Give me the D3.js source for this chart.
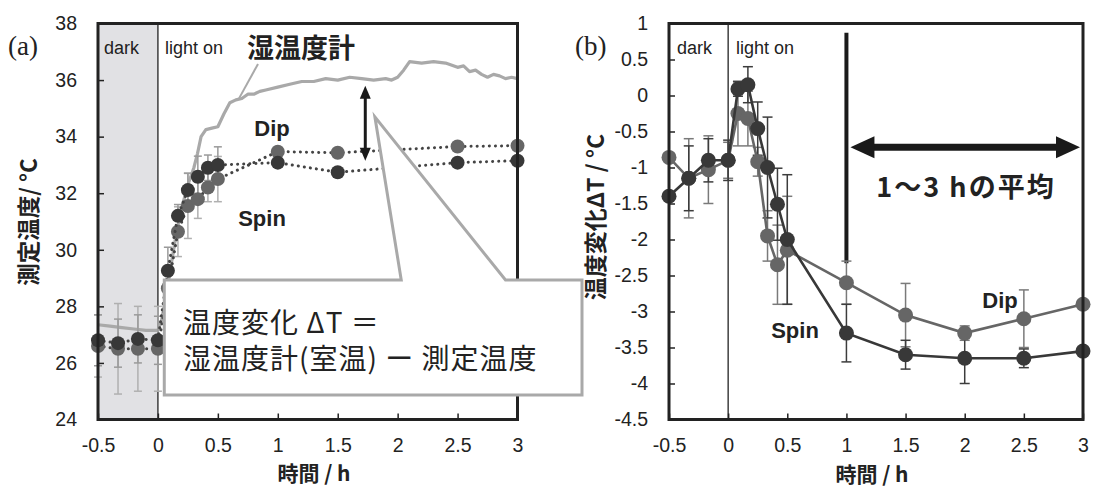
<!DOCTYPE html>
<html>
<head>
<meta charset="utf-8">
<script src="https://cdn.jsdelivr.net/npm/d3@7"></script>
<style>
body { margin: 0; background: #fff; }
svg { display: block; }
text { font-family: "Liberation Sans", Arial, sans-serif; fill: #222; }
.jp { font-family: "Noto Sans CJK JP", "Noto Sans", sans-serif; }
</style>
</head>
<body>
<div id="chart"></div>
<script>
// ---- panel (a): measured temperature ----
var timesA = [-0.5, -0.333, -0.167, 0, 0.083, 0.167, 0.25, 0.333, 0.417, 0.5, 1, 1.5, 2.5, 3];
var dipTemp = [26.6, 26.5, 26.5, 26.5, 28.64, 30.64, 31.55, 31.79, 32.2, 32.5, 33.47, 33.43, 33.65, 33.68];
var dipTempErr = [1.1, 1.6, 1.5, 1.5, 0.8, 0.88, 1.15, 0.68, 0.5, 0.8, 0.1, 0.1, 0.1, 0.1];
var spinTemp = [26.8, 26.7, 26.85, 26.8, 29.26, 31.2, 32.11, 32.58, 32.9, 33.0, 33.08, 32.74, 33.08, 33.15];
var spinTempErr = [0.9, 0.85, 0.85, 0.85, 0.83, 0.4, 0.6, 0.73, 0.45, 0.64, 0.1, 0.1, 0.1, 0.1];

// hygrometer (room temperature) trace
var hygroT = [-0.5, -0.4, -0.3, -0.2, -0.1, 0, 0.03, 0.06, 0.1, 0.15, 0.2, 0.25, 0.3, 0.33, 0.36, 0.4, 0.45, 0.5,
  0.55, 0.6, 0.65, 0.7, 0.75, 0.8, 0.85, 0.9, 1.0, 1.1, 1.2, 1.3, 1.4, 1.5, 1.6, 1.7, 1.8, 1.9, 1.95, 2.0, 2.05,
  2.1, 2.2, 2.3, 2.4, 2.5, 2.55, 2.6, 2.65, 2.7, 2.75, 2.8, 2.85, 2.9, 2.95, 3.0];
var hygroV = [27.35, 27.3, 27.25, 27.2, 27.15, 27.15, 27.5, 28.2, 29.2, 30.5, 31.5, 32.3, 32.9, 33.4, 34.0, 34.25, 34.3, 34.35,
  34.8, 35.2, 35.3, 35.35, 35.5, 35.5, 35.6, 35.65, 35.75, 35.85, 35.95, 35.95, 36.05, 36.0, 36.1, 36.05, 36.0, 36.05, 36.0, 36.1, 36.35,
  36.65, 36.6, 36.65, 36.6, 36.45, 36.5, 36.3, 36.35, 36.2, 36.1, 36.2, 36.15, 36.05, 36.1, 36.05];

// ---- panel (b): temperature change ----
var timesB = [-0.5, -0.333, -0.167, 0, 0.083, 0.167, 0.25, 0.333, 0.417, 0.5, 1, 1.5, 2, 2.5, 3];
var spinDT = [-1.4, -1.15, -0.9, -0.9, 0.09, 0.15, -0.46, -1.0, -1.51, -2.0, -3.3, -3.6, -3.65, -3.65, -3.55];
var spinDTErr = [0.05, 0.45, 0.3, 0.28, 0.1, 0.25, 0.37, 0.7, 0.5, 0.9, 0.4, 0.2, 0.35, 0.13, 0.05];
var dipDT = [-0.86, -1.15, -1.03, -0.9, -0.25, -0.32, -0.92, -1.95, -2.35, -2.15, -2.6, -3.05, -3.3, -3.1, -2.9];
var dipDTErr = [0.05, 0.55, 0.47, 0.25, 0.45, 0.38, 0.2, 0.35, 0.55, 0.75, 0.3, 0.44, 0.1, 0.4, 0.05];

var xTicks = [-0.5, 0, 0.5, 1, 1.5, 2, 2.5, 3];
var yTicksA = [24, 26, 28, 30, 32, 34, 36, 38];
var yTicksB = [1, 0.5, 0, -0.5, -1, -1.5, -2, -2.5, -3, -3.5, -4, -4.5];

var W = 1093, H = 488;
var svg = d3.select('#chart').append('svg').attr('width', W).attr('height', H);

var dipColor = '#666', spinColor = '#383838';
var plain = function(d) { return String(d); };   // keep hyphen-minus like the original

function frameAxes(g, x, y, yTicks) {
  var x0 = x.range()[0], x1 = x.range()[1], y0 = y.range()[1], y1 = y.range()[0];
  var xa = g.append('g').attr('transform', 'translate(0,' + y1 + ')')
    .call(d3.axisBottom(x).tickValues(xTicks).tickSize(-6).tickPadding(19).tickFormat(plain));
  var ya = g.append('g').attr('transform', 'translate(' + x0 + ',0)')
    .call(d3.axisLeft(y).tickValues(yTicks).tickSize(-6).tickPadding(21).tickFormat(plain));
  [xa, ya].forEach(function(a) {
    a.select('.domain').remove();
    a.selectAll('line').attr('stroke', '#222').attr('stroke-width', 1.5);
    a.selectAll('text').style('font-size', '19.5px').attr('fill', '#222')
      .style('font-family', '"Liberation Sans", Arial, sans-serif');
  });
  g.append('rect').attr('x', x0).attr('y', y0).attr('width', x1 - x0).attr('height', y1 - y0)
    .attr('fill', 'none').attr('stroke', '#222').attr('stroke-width', 3);
}

function arrowHead(g, px, py, dir, len, wid) {
  var pts;
  if (dir === 'up') pts = [[px, py], [px - wid / 2, py + len], [px + wid / 2, py + len]];
  if (dir === 'down') pts = [[px, py], [px - wid / 2, py - len], [px + wid / 2, py - len]];
  if (dir === 'left') pts = [[px, py], [px + len, py - wid / 2], [px + len, py + wid / 2]];
  if (dir === 'right') pts = [[px, py], [px - len, py - wid / 2], [px - len, py + wid / 2]];
  g.append('path').attr('d', 'M' + pts.join('L') + 'Z').attr('fill', '#1a1a1a');
}

function errBars(g, x, y, ts, vs, es, color, cap) {
  var eb = g.append('g').attr('stroke', color).attr('stroke-width', 1.5);
  ts.forEach(function(t, i) {
    var px = x(t);
    eb.append('line').attr('x1', px).attr('x2', px).attr('y1', y(vs[i] + es[i])).attr('y2', y(vs[i] - es[i]));
    [vs[i] + es[i], vs[i] - es[i]].forEach(function(v) {
      eb.append('line').attr('x1', px - cap).attr('x2', px + cap).attr('y1', y(v)).attr('y2', y(v));
    });
  });
}

function series(g, x, y, ts, vs, color, r, dotted) {
  var pts = ts.map(function(t, i) { return [t, vs[i]]; });
  var p = g.append('path').datum(pts)
    .attr('d', d3.line().x(function(d) { return x(d[0]); }).y(function(d) { return y(d[1]); }))
    .attr('fill', 'none');
  if (dotted) {
    p.attr('stroke', '#444').attr('stroke-width', 3).attr('stroke-dasharray', '0.1 6').attr('stroke-linecap', 'round');
  } else {
    p.attr('stroke', color).attr('stroke-width', 2.6);
  }
  g.append('g').selectAll('circle').data(pts).enter().append('circle')
    .attr('cx', function(d) { return x(d[0]); }).attr('cy', function(d) { return y(d[1]); })
    .attr('r', r).attr('fill', color);
}

// ================= panel (a) =================
var xA = d3.scaleLinear().domain([-0.5, 3]).range([98, 517.5]);
var yA = d3.scaleLinear().domain([24, 38]).range([419.5, 23.5]);
var gA = svg.append('g');

gA.append('rect').attr('x', xA(-0.5)).attr('y', yA(38)).attr('width', xA(0) - xA(-0.5))
  .attr('height', yA(24) - yA(38)).attr('fill', '#e1e1e4');
gA.append('line').attr('x1', xA(0)).attr('x2', xA(0)).attr('y1', yA(38)).attr('y2', yA(24))
  .attr('stroke', '#222').attr('stroke-width', 1.3);

var hygro = hygroT.map(function(t, i) { return [t, hygroV[i]]; });
gA.append('path').datum(hygro)
  .attr('d', d3.line().x(function(d) { return xA(d[0]); }).y(function(d) { return yA(d[1]); }))
  .attr('fill', 'none').attr('stroke', '#a9a9a9').attr('stroke-width', 3.2).attr('stroke-linejoin', 'round');
gA.append('line').attr('x1', 258).attr('y1', 64).attr('x2', xA(0.67)).attr('y2', yA(35.3))
  .attr('stroke', '#a9a9a9').attr('stroke-width', 2);

errBars(gA, xA, yA, timesA, dipTemp, dipTempErr, '#b0b0b0', 4);
errBars(gA, xA, yA, timesA, spinTemp, spinTempErr, '#9a9a9a', 4);
series(gA, xA, yA, timesA, dipTemp, dipColor, 7, true);
series(gA, xA, yA, timesA, spinTemp, spinColor, 7, true);

var axA = xA(1.73);
gA.append('line').attr('x1', axA).attr('x2', axA).attr('y1', yA(35.8) + 10).attr('y2', yA(33.15) - 10)
  .attr('stroke', '#1a1a1a').attr('stroke-width', 3);
arrowHead(gA, axA, yA(35.8), 'up', 13, 11);
arrowHead(gA, axA, yA(33.15), 'down', 13, 11);

frameAxes(gA, xA, yA, yTicksA);

gA.append('text').attr('x', 104).attr('y', 54).style('font-size', '18px').text('dark');
gA.append('text').attr('x', 165).attr('y', 54).style('font-size', '18px').text('light on');
gA.append('text').attr('class', 'jp').attr('x', 247).attr('y', 58).style('font-size', '27px')
  .style('font-weight', 'bold').text('湿温度計');
gA.append('text').attr('x', 272).attr('y', 136).attr('text-anchor', 'middle').style('font-size', '22px')
  .style('font-weight', 'bold').attr('fill', dipColor).text('Dip');
gA.append('text').attr('x', 262).attr('y', 226).attr('text-anchor', 'middle').style('font-size', '22px')
  .style('font-weight', 'bold').attr('fill', spinColor).text('Spin');

// callout box
var cb = { l: xA(0.053), r: 582, t: yA(28.93), b: yA(24.87) };
var callout = [[cb.l, cb.t], [xA(2.03), cb.t], [xA(1.81), yA(34.7)], [xA(2.9), cb.t], [cb.r, cb.t],
  [cb.r, cb.b], [cb.l, cb.b]];
svg.append('path').attr('d', 'M' + callout.join('L') + 'Z')
  .attr('fill', '#fff').attr('stroke', '#a9a9a9').attr('stroke-width', 3).attr('stroke-linejoin', 'miter');
svg.append('text').attr('class', 'jp').attr('x', 183).attr('y', 333).style('font-size', '28px')
  .style('letter-spacing', '1px').text('温度変化 ΔT ＝');
svg.append('text').attr('class', 'jp').attr('x', 183).attr('y', 369).style('font-size', '28px')
  .style('letter-spacing', '1px').text('湿温度計(室温) ー 測定温度');

svg.append('text').attr('x', 8).attr('y', 55).style('font-family', '"Liberation Serif", serif')
  .style('font-size', '27px').text('(a)');
svg.append('text').attr('class', 'jp').attr('x', 314).attr('y', 481).attr('text-anchor', 'middle')
  .style('font-size', '21px').style('font-weight', 'bold').text('時間 / h');
svg.append('text').attr('class', 'jp').attr('transform', 'translate(37,222) rotate(-90)')
  .attr('text-anchor', 'middle').style('font-size', '22.5px').style('font-weight', 'bold').text('測定温度/ °C');

// ================= panel (b) =================
var xB = d3.scaleLinear().domain([-0.5, 3]).range([669, 1083]);
var yB = d3.scaleLinear().domain([-4.5, 1]).range([419.5, 23.5]);
var gB = svg.append('g');

gB.append('line').attr('x1', xB(0)).attr('x2', xB(0)).attr('y1', yB(1)).attr('y2', yB(-4.5))
  .attr('stroke', '#222').attr('stroke-width', 1.3);
gB.append('line').attr('x1', xB(1)).attr('x2', xB(1)).attr('y1', yB(0.87)).attr('y2', yB(-2.33))
  .attr('stroke', '#1a1a1a').attr('stroke-width', 4);

errBars(gB, xB, yB, timesB, dipDT, dipDTErr, '#7a7a7a', 5);
errBars(gB, xB, yB, timesB, spinDT, spinDTErr, '#3c3c3c', 5);
series(gB, xB, yB, timesB, dipDT, dipColor, 7.5, false);
series(gB, xB, yB, timesB, spinDT, spinColor, 7.5, false);

var ayB = yB(-0.72);
gB.append('line').attr('x1', xB(1) + 20).attr('x2', xB(3) - 20).attr('y1', ayB).attr('y2', ayB)
  .attr('stroke', '#1a1a1a').attr('stroke-width', 7);
arrowHead(gB, xB(1) + 4, ayB, 'left', 24, 22);
arrowHead(gB, xB(3) - 3, ayB, 'right', 24, 22);

frameAxes(gB, xB, yB, yTicksB);

gB.append('text').attr('x', 677).attr('y', 54).style('font-size', '18px').text('dark');
gB.append('text').attr('x', 736).attr('y', 54).style('font-size', '18px').text('light on');
gB.append('text').attr('class', 'jp').attr('x', 966).attr('y', 197).attr('text-anchor', 'middle')
  .style('font-size', '27px').style('font-weight', 'bold').style('letter-spacing', '2px').text('1～3 hの平均');
gB.append('text').attr('x', 1000).attr('y', 308).attr('text-anchor', 'middle').style('font-size', '22px')
  .style('font-weight', 'bold').attr('fill', dipColor).text('Dip');
gB.append('text').attr('x', 795).attr('y', 338).attr('text-anchor', 'middle').style('font-size', '22px')
  .style('font-weight', 'bold').attr('fill', spinColor).text('Spin');

svg.append('text').attr('x', 575).attr('y', 55).style('font-family', '"Liberation Serif", serif')
  .style('font-size', '27px').text('(b)');
svg.append('text').attr('class', 'jp').attr('x', 872).attr('y', 482).attr('text-anchor', 'middle')
  .style('font-size', '21px').style('font-weight', 'bold').text('時間 / h');
svg.append('text').attr('class', 'jp').attr('transform', 'translate(604,217) rotate(-90)')
  .attr('text-anchor', 'middle').style('font-size', '23px').style('font-weight', 'bold').text('温度変化ΔT / °C');
</script>
</body>
</html>
